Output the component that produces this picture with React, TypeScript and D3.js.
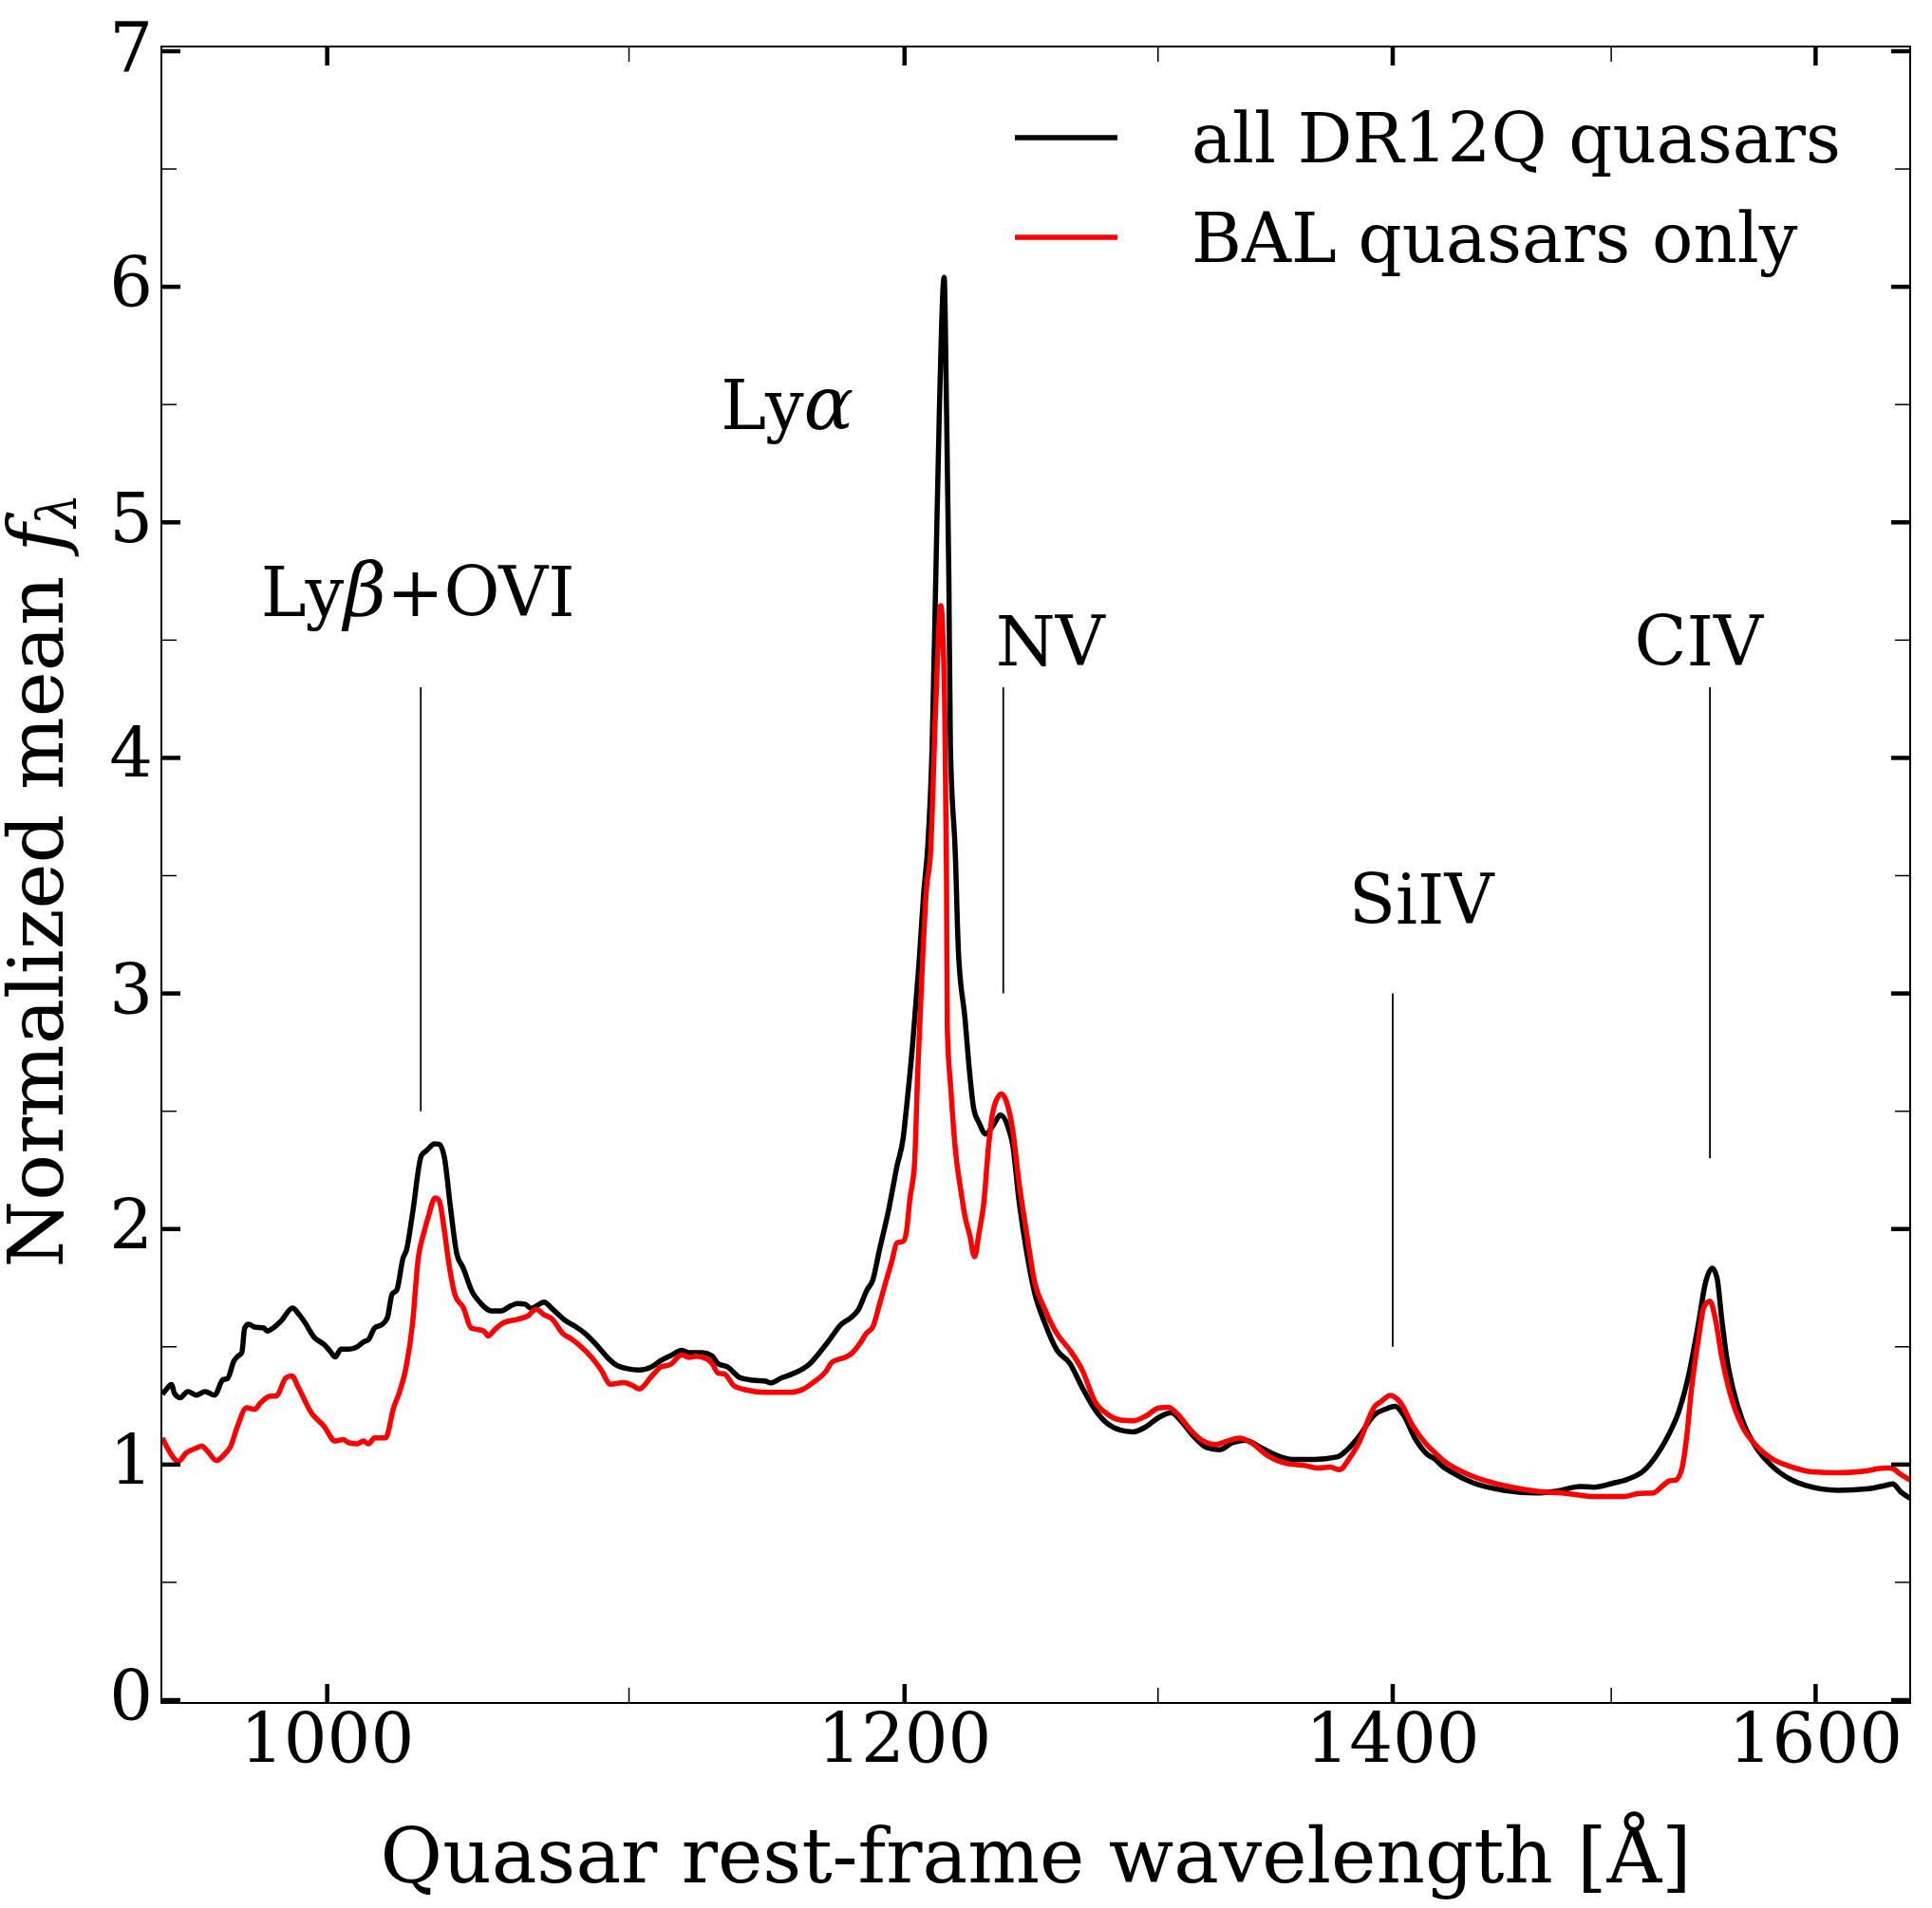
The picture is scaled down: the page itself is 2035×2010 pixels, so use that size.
import React from 'react';
import * as d3 from 'd3';

// ---------- data (rest-frame wavelength [Å], normalized mean flux) ----------
const allQuasars: [number, number][] = [
  [949.3, 1.298], [950.5, 1.32], [952.0, 1.34], [953.0, 1.3], [954.6, 1.284], [957.0, 1.31],
  [959.5, 1.295], [962.2, 1.31], [965.1, 1.295], [967.6, 1.36], [969.0, 1.365], [971.0, 1.44],
  [972.2, 1.46], [973.4, 1.475], [974.3, 1.58], [975.5, 1.596], [977.3, 1.584], [980.2, 1.58],
  [981.2, 1.567], [983.1, 1.58], [985.6, 1.61], [989.1, 1.664], [991.1, 1.638], [993.0, 1.603],
  [996.0, 1.539], [999.0, 1.51], [1000.9, 1.482], [1002.5, 1.457], [1004.4, 1.49], [1007.0, 1.49],
  [1009.5, 1.5], [1011.5, 1.52], [1013.1, 1.53], [1015.1, 1.58], [1017.6, 1.596], [1019.2, 1.624],
  [1020.7, 1.723], [1022.2, 1.74], [1024.3, 1.879], [1025.3, 1.908], [1027.3, 2.064], [1030.2, 2.312],
  [1031.9, 2.333], [1034.5, 2.362], [1036.0, 2.36], [1037.7, 2.305], [1039.7, 2.092], [1041.8, 1.894],
  [1043.8, 1.837], [1047.0, 1.73], [1049.0, 1.695], [1053.3, 1.652], [1056.5, 1.652], [1059.7, 1.674],
  [1062.0, 1.684], [1064.5, 1.681], [1066.5, 1.663], [1070.9, 1.69], [1073.5, 1.663], [1078.4, 1.609],
  [1081.6, 1.586], [1084.9, 1.556], [1089.2, 1.502], [1092.5, 1.455], [1095.8, 1.421], [1099.1, 1.408],
  [1103.5, 1.401], [1107.9, 1.415], [1111.2, 1.442], [1114.5, 1.462], [1118.5, 1.485], [1121.0, 1.475],
  [1125.8, 1.475], [1129.2, 1.462], [1131.4, 1.428], [1134.7, 1.415], [1139.4, 1.368], [1143.9, 1.358],
  [1148.5, 1.354], [1150.2, 1.347], [1154.3, 1.368], [1158.9, 1.388], [1164.6, 1.428], [1168.2, 1.475],
  [1171.6, 1.525], [1176.3, 1.596], [1179.8, 1.623], [1182.5, 1.655], [1185.8, 1.74], [1188.1, 1.786],
  [1190.5, 1.91], [1194.1, 2.087], [1197.1, 2.265], [1199.5, 2.388], [1200.7, 2.511], [1203.1, 2.789],
  [1205.5, 3.129], [1207.3, 3.43], [1208.8, 3.62], [1210.5, 4.05], [1211.9, 4.77], [1213.3, 5.49],
  [1215.1, 6.04], [1216.0, 5.49], [1216.9, 4.77], [1217.5, 4.05], [1219.4, 3.59], [1220.6, 3.175],
  [1223.1, 2.897], [1224.9, 2.666], [1226.5, 2.511], [1228.6, 2.45], [1231.1, 2.403], [1234.2, 2.442],
  [1236.9, 2.484], [1239.8, 2.435], [1241.7, 2.357], [1244.1, 2.126], [1247.3, 1.894], [1250.4, 1.725],
  [1254.2, 1.605], [1259.2, 1.485], [1264.3, 1.43], [1269.3, 1.326], [1274.4, 1.233], [1279.5, 1.173],
  [1284.7, 1.146], [1289.8, 1.139], [1295.0, 1.16], [1300.3, 1.2], [1305.5, 1.22], [1309.4, 1.186],
  [1314.8, 1.119], [1320.1, 1.072], [1325.4, 1.063], [1330.8, 1.092], [1336.2, 1.103], [1342.9, 1.072],
  [1349.6, 1.039], [1356.4, 1.022], [1365.9, 1.022], [1375.5, 1.032], [1379.6, 1.059], [1385.1, 1.119],
  [1392.1, 1.213], [1396.2, 1.233], [1401.1, 1.247], [1404.6, 1.213], [1410.2, 1.106], [1415.8, 1.04],
  [1418.6, 1.025], [1422.2, 0.992], [1425.7, 0.971], [1435.6, 0.924], [1450.0, 0.891], [1464.6, 0.88],
  [1474.9, 0.888], [1485.3, 0.907], [1492.0, 0.904], [1500.4, 0.92], [1507.9, 0.938], [1515.5, 0.974],
  [1521.6, 1.039], [1527.8, 1.133], [1532.4, 1.227], [1537.0, 1.374], [1541.7, 1.589], [1545.5, 1.778],
  [1548.7, 1.834], [1551.0, 1.791], [1553.3, 1.616], [1555.7, 1.455], [1558.8, 1.321], [1563.5, 1.186],
  [1569.8, 1.079], [1577.6, 0.998], [1587.2, 0.938], [1595.1, 0.911], [1611.2, 0.891], [1627.3, 0.898],
  [1635.4, 0.911], [1639.5, 0.918], [1643.6, 0.884], [1648.5, 0.857],
];

const balQuasars: [number, number][] = [
  [949.3, 1.113], [950.8, 1.071], [954.1, 1.014], [956.5, 1.05], [959.1, 1.068], [961.2, 1.078],
  [962.9, 1.057], [965.6, 1.017], [968.5, 1.05], [969.9, 1.075], [971.9, 1.156], [974.9, 1.241],
  [977.3, 1.234], [979.2, 1.262], [982.2, 1.291], [984.0, 1.291], [987.1, 1.369], [988.9, 1.376],
  [991.0, 1.326], [995.0, 1.22], [999.0, 1.163], [1002.5, 1.1], [1005.0, 1.106], [1007.0, 1.092],
  [1009.5, 1.088], [1011.5, 1.1], [1013.1, 1.088], [1015.1, 1.113], [1018.6, 1.113], [1021.2, 1.241],
  [1023.2, 1.312], [1025.2, 1.411], [1027.3, 1.596], [1029.2, 1.879], [1030.9, 1.979], [1032.4, 2.05],
  [1034.7, 2.132], [1036.0, 2.12], [1037.7, 1.993], [1039.2, 1.851], [1041.3, 1.716], [1043.9, 1.667],
  [1046.5, 1.58], [1048.0, 1.575], [1050.7, 1.567], [1052.2, 1.546], [1054.4, 1.574], [1057.4, 1.603],
  [1062.0, 1.617], [1065.5, 1.632], [1068.2, 1.659], [1070.9, 1.636], [1073.5, 1.619], [1077.3, 1.556],
  [1079.9, 1.535], [1082.7, 1.509], [1087.1, 1.455], [1090.4, 1.401], [1093.6, 1.341], [1098.1, 1.348],
  [1101.0, 1.337], [1103.5, 1.321], [1107.9, 1.375], [1111.2, 1.415], [1114.5, 1.425], [1118.5, 1.466],
  [1121.0, 1.455], [1123.6, 1.46], [1127.5, 1.448], [1129.2, 1.43], [1131.4, 1.388], [1133.6, 1.385],
  [1137.1, 1.334], [1141.0, 1.318], [1148.5, 1.307], [1152.0, 1.307], [1157.7, 1.307], [1162.3, 1.321],
  [1165.8, 1.348], [1170.5, 1.395], [1172.9, 1.435], [1177.5, 1.455], [1179.8, 1.469], [1183.3, 1.516],
  [1185.7, 1.558], [1188.1, 1.586], [1190.5, 1.679], [1192.8, 1.771], [1195.2, 1.864], [1197.1, 1.941],
  [1199.5, 1.948], [1200.7, 1.987], [1202.0, 2.126], [1203.8, 2.28], [1205.0, 2.666], [1206.8, 3.129],
  [1208.3, 3.44], [1209.9, 3.6], [1211.9, 4.23], [1213.8, 4.646], [1215.3, 4.23], [1216.0, 3.5],
  [1216.3, 2.85], [1217.7, 2.588], [1219.5, 2.326], [1221.4, 2.172], [1223.2, 2.049], [1225.0, 1.972],
  [1226.8, 1.882], [1228.6, 1.987], [1230.4, 2.11], [1232.3, 2.357], [1234.2, 2.511], [1237.3, 2.573],
  [1239.2, 2.542], [1241.7, 2.419], [1244.1, 2.203], [1247.3, 1.972], [1250.4, 1.771], [1254.2, 1.663],
  [1259.2, 1.555], [1264.3, 1.486], [1269.3, 1.4], [1274.4, 1.267], [1279.5, 1.213], [1284.7, 1.189],
  [1289.8, 1.186], [1295.0, 1.206], [1300.3, 1.24], [1304.2, 1.243], [1307.5, 1.22], [1313.5, 1.146],
  [1318.8, 1.099], [1324.0, 1.085], [1328.5, 1.099], [1333.8, 1.112], [1339.0, 1.092], [1345.6, 1.039],
  [1353.7, 1.005], [1361.8, 0.996], [1367.3, 0.985], [1372.6, 0.989], [1376.7, 0.978], [1380.9, 1.025],
  [1385.1, 1.092], [1392.1, 1.247], [1394.8, 1.267], [1398.9, 1.294], [1403.1, 1.267], [1408.8, 1.166],
  [1414.4, 1.092], [1418.6, 1.052], [1422.2, 1.02], [1435.6, 0.951], [1450.0, 0.911], [1464.6, 0.888],
  [1479.6, 0.877], [1491.3, 0.864], [1506.4, 0.864], [1512.5, 0.877], [1520.1, 0.88], [1524.7, 0.911],
  [1527.8, 0.931], [1530.8, 0.934], [1533.9, 0.985], [1536.2, 1.119], [1538.5, 1.321], [1541.7, 1.522],
  [1544.6, 1.67], [1547.5, 1.694], [1550.2, 1.616], [1553.3, 1.455], [1557.2, 1.307], [1563.5, 1.16],
  [1569.8, 1.085], [1577.6, 1.028], [1587.2, 0.992], [1598.4, 0.969], [1611.2, 0.965], [1624.0, 0.971],
  [1635.4, 0.985], [1638.6, 0.985], [1643.6, 0.958], [1648.5, 0.934],
];

// emission-line markers: wavelength, lower and upper end of the marker line
const markerWave = [1030, 1238, 1400, 1547.5];
const markerLow = [2.5, 3.0, 1.5, 2.3];
const markerHigh = [4.3, 4.3, 3.0, 4.3];

// emission-line labels (centre wavelength, baseline flux)
const labelNames = ['Lyβ+OVI', 'Lyα', 'NV', 'SiIV', 'CIV'];
const labelWave = [1029.1, 1156.4, 1256.5, 1412.7, 1542.0];
const labelFlux = [4.603, 5.397, 4.393, 3.297, 4.393];

const xMajorTicks = [1000, 1200, 1400, 1600];
const xMinorTicks = [1100, 1300, 1500];
const yMajorTicks = [0, 1, 2, 3, 4, 5, 6, 7];
const yMinorTicks = [0.5, 1.5, 2.5, 3.5, 4.5, 5.5, 6.5];

const seriesNames = ['all DR12Q quasars', 'BAL quasars only'];
const seriesColors = ['#000000', '#ff0000'];

const FONT = '"DejaVu Serif", serif';
const W = 2035;
const H = 2010;

function Label({ name, x, y }: { name: string; x: number; y: number }) {
  const greek = name.match(/[αβ]/);
  if (!greek) {
    return (
      <text x={x} y={y} textAnchor="middle" fontFamily={FONT} fontSize={72}>
        {name}
      </text>
    );
  }
  const i = name.indexOf(greek[0]);
  return (
    <text x={x} y={y} textAnchor="middle" fontFamily={FONT} fontSize={72}>
      <tspan>{name.slice(0, i)}</tspan>
      <tspan fontStyle="italic" fontSize={78}>{greek[0]}</tspan>
      <tspan>{name.slice(i + 1)}</tspan>
    </text>
  );
}

export default function App() {
  const L = 170, R = 2012, T = 49, B = 1794;
  const x = d3.scaleLog().domain([949, 1648.5]).range([L, R]);
  const y = d3.scaleLinear().domain([-0.012, 7.02]).range([B, T]);
  const line = d3
    .line<[number, number]>()
    .x((d) => x(d[0]))
    .y((d) => y(d[1]))
    .curve(d3.curveMonotoneX);

  const majorLen = 20, minorLen = 16;
  const majorW = 4.5, minorW = 1.5;
  const dataW = 5.5;

  return (
    <div style={{ position: 'absolute', left: 0, top: 0 }}>
      <svg width={W} height={H} style={{ display: 'block' }}>
        <rect width={W} height={H} fill="#fff" />
        <defs>
          <clipPath id="plotArea">
            <rect x={L} y={T} width={R - L} height={B - T} />
          </clipPath>
        </defs>

        {/* spectra */}
        <g clipPath="url(#plotArea)" fill="none" strokeWidth={dataW} strokeLinejoin="round">
          <path d={line(allQuasars) || ''} stroke={seriesColors[0]} />
          <path d={line(balQuasars) || ''} stroke={seriesColors[1]} />
        </g>

        {/* emission line markers */}
        {markerWave.map((w, i) => (
          <line key={'m' + i} x1={x(w)} x2={x(w)} y1={y(markerLow[i])} y2={y(markerHigh[i])}
            stroke="#000" strokeWidth={1.8} />
        ))}
        {labelNames.map((n, i) => (
          <Label key={'l' + i} name={n} x={x(labelWave[i])} y={y(labelFlux[i])} />
        ))}

        {/* legend */}
        {seriesNames.map((n, i) => (
          <g key={'lg' + i}>
            <line x1={1069} x2={1177} y1={145 + i * 105} y2={145 + i * 105}
              stroke={seriesColors[i]} strokeWidth={dataW} />
            <text x={1255} y={171 + i * 105} fontFamily={FONT} fontSize={72}>{n}</text>
          </g>
        ))}

        {/* ticks */}
        <g stroke="#000">
          {xMajorTicks.map((t) => (
            <g key={'xM' + t} strokeWidth={majorW}>
              <line x1={x(t)} x2={x(t)} y1={B} y2={B - majorLen} />
              <line x1={x(t)} x2={x(t)} y1={T} y2={T + majorLen} />
            </g>
          ))}
          {xMinorTicks.map((t) => (
            <g key={'xm' + t} strokeWidth={minorW}>
              <line x1={x(t)} x2={x(t)} y1={B} y2={B - minorLen} />
              <line x1={x(t)} x2={x(t)} y1={T} y2={T + minorLen} />
            </g>
          ))}
          {yMajorTicks.map((t) => (
            <g key={'yM' + t} strokeWidth={majorW}>
              <line x1={L} x2={L + majorLen} y1={y(t)} y2={y(t)} />
              <line x1={R} x2={R - majorLen} y1={y(t)} y2={y(t)} />
            </g>
          ))}
          {yMinorTicks.map((t) => (
            <g key={'ym' + t} strokeWidth={minorW}>
              <line x1={L} x2={L + minorLen} y1={y(t)} y2={y(t)} />
              <line x1={R} x2={R - minorLen} y1={y(t)} y2={y(t)} />
            </g>
          ))}
        </g>

        {/* frame */}
        <rect x={L} y={T} width={R - L} height={B - T} fill="none" stroke="#000" strokeWidth={2} />

        {/* tick labels */}
        {xMajorTicks.map((t) => (
          <text key={'xl' + t} x={x(t)} y={1857} textAnchor="middle" fontFamily={FONT} fontSize={72}>
            {t}
          </text>
        ))}
        {yMajorTicks.map((t) => (
          <text key={'yl' + t} x={161} y={y(t) + 21} textAnchor="end" fontFamily={FONT} fontSize={72}>
            {t}
          </text>
        ))}

        {/* axis labels */}
        <text x={(L + R) / 2} y={1983} textAnchor="middle" fontFamily={FONT} fontSize={80}>
          Quasar rest-frame wavelength [Å]
        </text>
        <g transform={`translate(66, ${(T + B) / 2 + 6}) rotate(-90)`} fontFamily={FONT}>
          <text x={-408} y={0} fontSize={81}>Normalized mean</text>
          <text x={346} y={0} fontSize={81} fontStyle="italic">f</text>
          <text x={372} y={14} fontSize={57} fontStyle="italic">λ</text>
        </g>
      </svg>
    </div>
  );
}
